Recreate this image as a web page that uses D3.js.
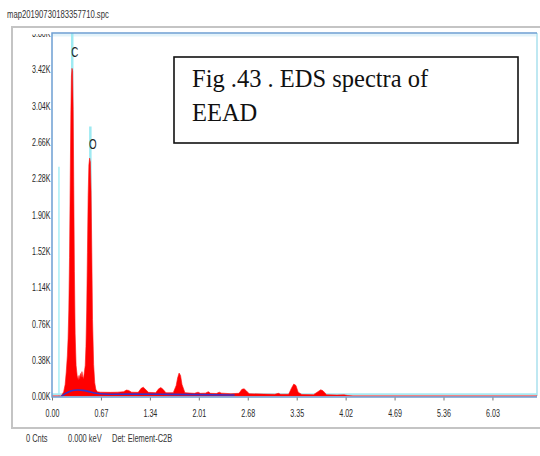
<!DOCTYPE html>
<html>
<head>
<meta charset="utf-8">
<script src="https://cdn.jsdelivr.net/npm/d3@7"></script>
<style>
  html, body { margin: 0; padding: 0; background: #fff; }
  svg { display: block; }
  .lbl { font-family: "Liberation Sans", Arial, sans-serif; }
</style>
</head>
<body>
<svg id="chart" width="540" height="456"></svg>
<script>
// EDS spectrum: energy (keV) and counts along the outline of the filled trace
const spectrumEnergy = [0.00,0.12,0.14,0.16,0.18,0.195,0.21,0.22,0.23,0.24,0.25,0.258,0.266,0.274,0.282,0.29,0.298,0.307,0.317,0.33,0.345,0.36,0.37,0.38,0.39,0.40,0.41,0.42,0.43,0.44,0.455,0.465,0.475,0.485,0.495,0.505,0.515,0.525,0.535,0.545,0.555,0.57,0.585,0.60,0.62,0.66,0.80,0.90,0.98,1.02,1.05,1.09,1.18,1.22,1.25,1.28,1.32,1.42,1.46,1.49,1.52,1.56,1.66,1.70,1.72,1.74,1.76,1.78,1.82,1.95,2.00,2.03,2.10,2.14,2.17,2.25,2.29,2.32,2.45,2.56,2.60,2.63,2.66,2.70,2.90,3.05,3.10,3.13,3.24,3.28,3.31,3.34,3.37,3.42,3.58,3.64,3.68,3.71,3.76,3.90,4.00,4.05,4.12,6.64];
const spectrumCounts = [0,0,15,45,120,250,420,600,900,1450,2300,2950,3350,3430,3400,3000,2200,1300,650,320,210,170,215,175,235,195,255,205,180,230,320,520,900,1500,2100,2420,2490,2450,2150,1500,800,330,140,70,45,40,38,40,45,62,58,40,38,80,92,70,38,35,75,88,70,34,35,110,190,240,215,120,35,28,40,28,30,45,28,26,40,30,24,28,70,75,55,24,20,18,28,18,18,85,125,110,40,16,14,45,65,55,14,10,12,5,0,0];

// Background fit under the spectrum
const backgroundEnergy = [0.13,0.18,0.24,0.30,0.36,0.42,0.48,0.54,0.60,0.70,0.85,1.0,1.5,2.0,2.5];
const backgroundCounts = [0,25,50,62,64,60,52,40,28,20,18,20,18,14,10];

// Element identification markers
const markerElements = ["C", "O"];
const markerEnergy = [0.277, 0.525];
const markerTopCounts = [3800, 2820];

// Axis ticks
const xTickValues = [0, 0.67, 1.34, 2.01, 2.68, 3.35, 4.02, 4.69, 5.36, 6.03];
const xTickLabels = ["0.00","0.67","1.34","2.01","2.68","3.35","4.02","4.69","5.36","6.03"];
const yTickValues = [0,380,760,1140,1520,1900,2280,2660,3040,3420,3800];
const yTickLabels = ["0.00K","0.38K","0.76K","1.14K","1.52K","1.90K","2.28K","2.66K","3.04K","3.42K","3.80K"];

const svg = d3.select("#chart");
const plotL = 52, plotR = 537, plotT = 33, plotB = 396;
const textColor = "#2a2a2a";

const x = d3.scaleLinear().domain([0, 6.64]).range([plotL, plotR]);
const y = d3.scaleLinear().domain([0, 3800]).range([plotB, plotT]);

// file name header
svg.append("text").attr("class", "lbl")
  .attr("transform", "translate(7,18) scale(0.7,1)")
  .attr("font-size", 11).style("fill", "#333")
  .text("map20190730183357710.spc");

// outer window frame
svg.append("path")
  .attr("d", "M540,27 L12,27 L12,428 L540,428")
  .attr("fill", "none").attr("stroke", "#c4c4c4").attr("stroke-width", 2);

// plot background tint strip and right edge
svg.append("line").attr("x1", plotL).attr("x2", plotR).attr("y1", plotT + 2).attr("y2", plotT + 2)
  .attr("stroke", "#e3f3fa").attr("stroke-width", 3);
svg.append("line").attr("x1", plotR).attr("x2", plotR).attr("y1", plotT).attr("y2", plotB)
  .attr("stroke", "#bfe8f2").attr("stroke-width", 2);

// zero-strobe marker line
svg.append("line")
  .attr("x1", x(0.095)).attr("x2", x(0.095))
  .attr("y1", y(2400)).attr("y2", y(0))
  .attr("stroke", "#a8eef4").attr("stroke-width", 1.5);

// element marker lines
markerElements.forEach((el, i) => {
  svg.append("line")
    .attr("x1", x(markerEnergy[i])).attr("x2", x(markerEnergy[i]))
    .attr("y1", y(markerTopCounts[i])).attr("y2", y(0))
    .attr("stroke", "#9eeaf2").attr("stroke-width", 2.5);
});

// cyan fit line along the baseline
svg.append("line").attr("x1", plotL).attr("x2", plotR)
  .attr("y1", y(18)).attr("y2", y(18))
  .attr("stroke", "#a6e9f2").attr("stroke-width", 2);

// filled spectrum
const spectrum = spectrumEnergy.map((e, i) => ({ e, c: spectrumCounts[i] }));
const area = d3.area().x(d => x(d.e)).y0(y(0)).y1(d => y(d.c));
svg.append("path").datum(spectrum)
  .attr("d", area)
  .attr("fill", "#ff0000").attr("stroke", "#ff1010").attr("stroke-width", 0.6);

// background fit line
const bkg = backgroundEnergy.map((e, i) => ({ e, c: backgroundCounts[i] }));
svg.append("path").datum(bkg)
  .attr("d", d3.line().x(d => x(d.e)).y(d => y(d.c)).curve(d3.curveBasis))
  .attr("fill", "none").attr("stroke", "#3a2fc8").attr("stroke-width", 1.6);

// element labels
markerElements.forEach((el, i) => {
  svg.append("text").attr("class", "lbl")
    .attr("transform", `translate(${x(markerEnergy[i]) + 2.5},${y(markerTopCounts[i]) + (i === 0 ? 24 : 22)}) scale(0.7,1)`)
    .attr("text-anchor", "middle").attr("font-size", 14).style("fill", "#222")
    .text(el);
});

// plot border (left, top, bottom)
svg.append("path")
  .attr("d", `M${plotR},${plotT} L${plotL},${plotT} L${plotL},${plotB + 1} L${plotR},${plotB + 1}`)
  .attr("fill", "none").attr("stroke", "#6e9fd2").attr("stroke-width", 1.5);

// x axis
const xAxis = svg.append("g").attr("transform", `translate(0,${plotB + 1.5})`)
  .call(d3.axisBottom(x).tickValues(xTickValues)
    .tickFormat((d, i) => xTickLabels[i]).tickSize(3).tickPadding(8));
xAxis.select(".domain").remove();
xAxis.selectAll("line").attr("stroke", "#777");
xAxis.selectAll("text").attr("class", "lbl")
  .attr("font-size", 11.5).attr("font-family", null).style("fill", textColor)
  .attr("transform", "scale(0.62,1)");

// y axis (labels clipped at the plot top)
svg.append("clipPath").attr("id", "yclip")
  .append("rect").attr("x", -60).attr("y", plotT + 1).attr("width", 60).attr("height", 400);
const yAxis = svg.append("g").attr("transform", `translate(${plotL - 0.5},0)`)
  .attr("clip-path", "url(#yclip)")
  .call(d3.axisLeft(y).tickValues(yTickValues)
    .tickFormat((d, i) => yTickLabels[i]).tickSize(0).tickPadding(1.5));
yAxis.select(".domain").remove();
yAxis.selectAll("text").attr("class", "lbl")
  .attr("font-size", 11.5).attr("font-family", null).style("fill", textColor)
  .attr("transform", "scale(0.62,1)");

// caption box
svg.append("rect").attr("x", 174).attr("y", 57).attr("width", 344).attr("height", 86)
  .attr("fill", "#fff").attr("stroke", "#111").attr("stroke-width", 1.6);
const cap = svg.append("text")
  .attr("font-family", "'Liberation Serif', 'Times New Roman', serif")
  .attr("font-size", 24.5).attr("fill", "#111");
cap.append("tspan").attr("x", 192).attr("y", 87).text("Fig .43 . EDS spectra of");
cap.append("tspan").attr("x", 192).attr("y", 121).text("EEAD");

// status line
const status = [["0 Cnts", 26], ["0.000 keV", 68], ["Det: Element-C2B", 112]];
status.forEach(([t, px]) => {
  svg.append("text").attr("class", "lbl")
    .attr("transform", `translate(${px},442) scale(0.68,1)`)
    .attr("font-size", 11).style("fill", "#333")
    .text(t);
});
</script>
</body>
</html>
